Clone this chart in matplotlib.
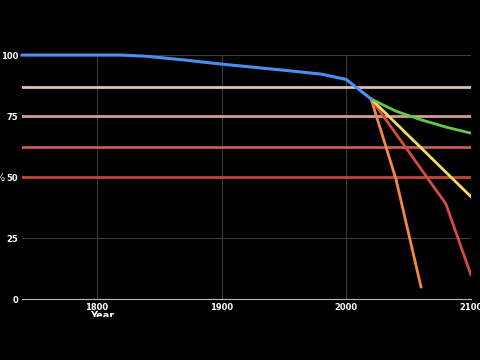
import matplotlib
matplotlib.use('Agg')
import matplotlib.pyplot as plt
from matplotlib.patches import Rectangle

# historic curve
hist_years = [1740, 1820, 1840, 1870, 1900, 1950, 1980, 2000, 2020]
hist_pct = [100, 100, 99.5, 98, 96.3, 93.8, 92.2, 90, 82]

# projections from 2020
green_years = [2020, 2040, 2060, 2080, 2100]
green_pct = [82, 77, 73.5, 70.5, 68]
yellow_years = [2020, 2100]
yellow_pct = [82, 42]
red_years = [2020, 2080, 2100]
red_pct = [82, 39, 10]
orange_years = [2020, 2040, 2060]
orange_pct = [82, 49, 5]

# reference levels
levels = [87, 75, 62.5, 50]
level_colors = ['#f3d6cf', '#eba99c', '#d9685b', '#d04a3b']

fig = plt.figure(figsize=(4.8, 3.6), dpi=100, facecolor='black')
ax = fig.add_axes([0.046, 0.169, 0.935, 0.678])
ax.set_facecolor('black')

ax.set_xlim(1740, 2100)
ax.set_ylim(0, 100)
ax.set_xticks([1800, 1900, 2000, 2100])
ax.set_yticks([0, 25, 50, 75, 100])
ax.grid(True, color='#3a3a3a', linewidth=0.8)
ax.tick_params(colors='white', length=0, labelsize=6, pad=3)
for lab in ax.get_xticklabels() + ax.get_yticklabels():
    lab.set_fontweight('bold')
for s in ['top', 'left', 'right']:
    ax.spines[s].set_visible(False)
ax.spines['bottom'].set_color('#bbbbbb')

for lv, c in zip(levels, level_colors):
    ax.axhline(lv, color=c, linewidth=2, alpha=0.9)

ax.plot(orange_years, orange_pct, color='#f08a42', linewidth=2)
ax.plot(red_years, red_pct, color='#d94b3c', linewidth=2)
ax.plot(yellow_years, yellow_pct, color='#f6da62', linewidth=2)
ax.plot(green_years, green_pct, color='#62c948', linewidth=2)
ax.plot(hist_years, hist_pct, color='#4a8ff0', linewidth=2.2, clip_on=False)

fig.text(0.0, 0.505, '%', color='white', fontsize=7, ha='center', va='center')
fig.text(0.213, 0.122, 'Year', color='white', fontsize=7, fontweight='bold',
         ha='center', va='center')
# the axis title is cut off below its upper half in the original
fig.patches.append(Rectangle((0, 0), 1, 0.119, transform=fig.transFigure,
                             facecolor='black', edgecolor='none', zorder=10))

fig.savefig('out.png', dpi=100, facecolor='black')
